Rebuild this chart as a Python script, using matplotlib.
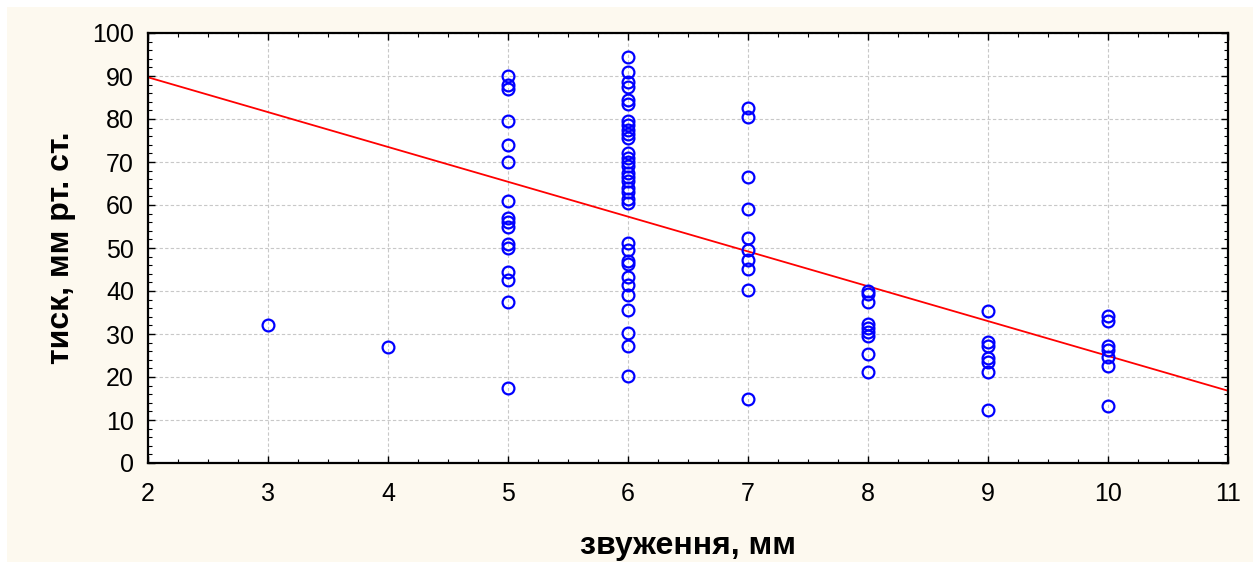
import matplotlib
matplotlib.use("Agg")
import matplotlib.pyplot as plt
from matplotlib.patches import Rectangle
from matplotlib.ticker import MultipleLocator

plt.rcParams['font.family'] = ['Liberation Sans', 'DejaVu Sans']

# narrowing (mm) -> pressure (mm Hg)
x3 = [3]
y3 = [32]
x4 = [4]
y4 = [27]
y5 = [90, 88, 87, 79.5, 74, 70, 61, 57, 56, 55, 51, 50, 44.5, 42.5, 37.5, 17.5]
y6 = [94.5, 91, 88.5, 87.5, 84.5, 83.5, 79.5, 78.5, 77.5, 76.5, 75.5, 72, 71, 70, 69,
      67.5, 66.5, 65.5, 64, 63, 61.5, 60.5, 51.2, 49.5, 47, 46.3, 43.3, 41.3, 39, 35.5,
      30.3, 27.2, 20.2]
y7 = [82.5, 80.5, 66.5, 59, 52.3, 49.5, 47.2, 45.2, 40.2, 15]
y8 = [40, 39.2, 37.5, 32.3, 31.5, 30.5, 29.5, 25.3, 21.2]
y9 = [35.4, 28.2, 27.3, 24.4, 23.6, 21.2, 12.3]
y10 = [34.3, 33, 27.2, 26.3, 24.6, 22.6, 13.2]

groups = {3: y3, 4: y4, 5: y5, 6: y6, 7: y7, 8: y8, 9: y9, 10: y10}

# regression line ends
fit_x = [2, 11]
fit_y = [89.7, 16.8]

fig = plt.figure(figsize=(12.6, 5.69), dpi=100)
fig.patch.set_facecolor('white')
bg = Rectangle((7 / 1260, 7 / 569), 1246 / 1260, 555 / 569,
               transform=fig.transFigure, facecolor='#fdf9ef', edgecolor='none')
bg.set_zorder(-10)
fig.add_artist(bg)

ax = fig.add_axes([148 / 1260, 1 - 463 / 569, 1080 / 1260, 430 / 569])
ax.set_zorder(5)
ax.set_facecolor('white')

for gx, gy in groups.items():
    ax.plot([gx] * len(gy), gy, linestyle='none', marker='o', markersize=8.5,
            markerfacecolor='none', markeredgecolor='#0000ff', markeredgewidth=1.6,
            zorder=3)

ax.plot(fit_x, fit_y, color='#ff0000', linewidth=1.3, zorder=2)

ax.set_xlim(2, 11)
ax.set_ylim(0, 100)
ax.xaxis.set_major_locator(MultipleLocator(1))
ax.xaxis.set_minor_locator(MultipleLocator(0.25))
ax.yaxis.set_major_locator(MultipleLocator(10))
ax.yaxis.set_minor_locator(MultipleLocator(2))

ax.grid(True, which='major', color='#c8c8c8', linestyle='--', linewidth=0.8,
        dashes=(3, 2))
ax.tick_params(which='both', direction='in', top=True, right=True,
               labelsize=18, color='black')
ax.tick_params(which='major', length=5, width=1)
ax.tick_params(which='minor', length=3, width=0.8)
ax.tick_params(axis='x', pad=14)
ax.tick_params(axis='y', pad=10)
for s in ax.spines.values():
    s.set_linewidth(1.6)

ax.set_xlabel('звуження, мм', fontsize=23, fontweight='bold', labelpad=18)
ax.set_ylabel('тиск, мм рт. ст.', fontsize=23, fontweight='bold', labelpad=12)

fig.savefig('out.png', dpi=100, facecolor=fig.get_facecolor())
